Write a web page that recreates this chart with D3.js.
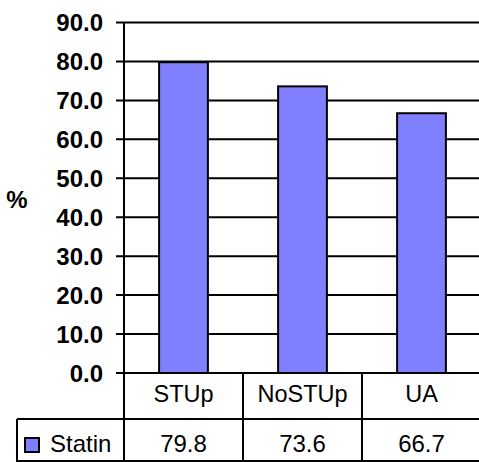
<!DOCTYPE html>
<html>
<head>
<meta charset="utf-8">
<script src="https://cdn.jsdelivr.net/npm/d3@7"></script>
<style>
body { margin: 0; background: #fff; }
text { font-family: "Liberation Sans", Arial, sans-serif; }
</style>
</head>
<body>
<script>
var categories = ["STUp", "NoSTUp", "UA"];
var statin = [79.8, 73.6, 66.7];
var yTicks = [0, 10, 20, 30, 40, 50, 60, 70, 80, 90];
var seriesName = "Statin";

var w = 479;
var h = 462;
var svg = d3.select("body").append("svg")
            .attr("width", w)
            .attr("height", h);

var x = d3.scaleBand()
          .domain(categories)
          .range([124, 481])
          .padding(0);

var y = d3.scaleLinear()
          .domain([0, 90])
          .range([373, 22.5]);

var headerBottom = 419;
var tableBottom = 461;
var tableLeft = 17;

// gridlines
svg.append("g")
   .selectAll("line")
   .data(yTicks)
   .enter().append("line")
   .attr("x1", 116)
   .attr("x2", 490)
   .attr("y1", d => y(d))
   .attr("y2", d => y(d))
   .attr("stroke", "#000")
   .attr("stroke-width", 2);

// tick labels
svg.append("g")
   .selectAll("text")
   .data(yTicks)
   .enter().append("text")
   .attr("x", 103)
   .attr("y", d => y(d))
   .attr("dy", "0.36em")
   .attr("text-anchor", "end")
   .attr("font-size", 24)
   .attr("font-weight", "bold")
   .text(d => d.toFixed(1));

// % label
svg.append("text")
   .attr("x", 17)
   .attr("y", 199)
   .attr("dy", "0.36em")
   .attr("text-anchor", "middle")
   .attr("font-size", 24)
   .attr("font-weight", "bold")
   .text("%");

// bars
var barW = x.bandwidth() * 0.41;
svg.append("g")
   .selectAll("rect")
   .data(statin)
   .enter().append("rect")
   .attr("x", (d, i) => x(categories[i]) + (x.bandwidth() - barW) / 2)
   .attr("y", d => y(d))
   .attr("width", barW)
   .attr("height", d => y(0) - y(d))
   .attr("fill", "#8080FF")
   .attr("stroke", "#000")
   .attr("stroke-width", 2);

// y axis line, down through the table
svg.append("line")
   .attr("x1", 124).attr("x2", 124)
   .attr("y1", y(90)).attr("y2", tableBottom + 1)
   .attr("stroke", "#000").attr("stroke-width", 2);

// table lines
svg.append("line")
   .attr("x1", 124).attr("x2", 490)
   .attr("y1", y(0)).attr("y2", y(0))
   .attr("stroke", "#000").attr("stroke-width", 2);
svg.append("line")
   .attr("x1", tableLeft).attr("x2", 490)
   .attr("y1", headerBottom).attr("y2", headerBottom)
   .attr("stroke", "#000").attr("stroke-width", 2);
svg.append("line")
   .attr("x1", tableLeft).attr("x2", 490)
   .attr("y1", tableBottom).attr("y2", tableBottom)
   .attr("stroke", "#000").attr("stroke-width", 2);
svg.append("line")
   .attr("x1", tableLeft).attr("x2", tableLeft)
   .attr("y1", headerBottom).attr("y2", tableBottom + 1)
   .attr("stroke", "#000").attr("stroke-width", 2);

// column dividers
svg.append("g")
   .selectAll("line")
   .data(categories.slice(1))
   .enter().append("line")
   .attr("x1", d => x(d)).attr("x2", d => x(d))
   .attr("y1", y(0)).attr("y2", tableBottom + 1)
   .attr("stroke", "#000").attr("stroke-width", 2);

// category labels
svg.append("g")
   .selectAll("text")
   .data(categories)
   .enter().append("text")
   .attr("x", d => x(d) + x.bandwidth() / 2)
   .attr("y", 402)
   .attr("text-anchor", "middle")
   .attr("font-size", 23.5)
   .text(d => d);

// values row
svg.append("g")
   .selectAll("text")
   .data(statin)
   .enter().append("text")
   .attr("x", (d, i) => x(categories[i]) + x.bandwidth() / 2)
   .attr("y", 452)
   .attr("text-anchor", "middle")
   .attr("font-size", 24)
   .text(d => d.toFixed(1));

// legend key
svg.append("rect")
   .attr("x", 25).attr("y", 438)
   .attr("width", 14).attr("height", 14)
   .attr("fill", "#8080FF")
   .attr("stroke", "#000")
   .attr("stroke-width", 2);
svg.append("text")
   .attr("x", 50)
   .attr("y", 452)
   .attr("font-size", 24)
   .text(seriesName);
</script>
</body>
</html>
